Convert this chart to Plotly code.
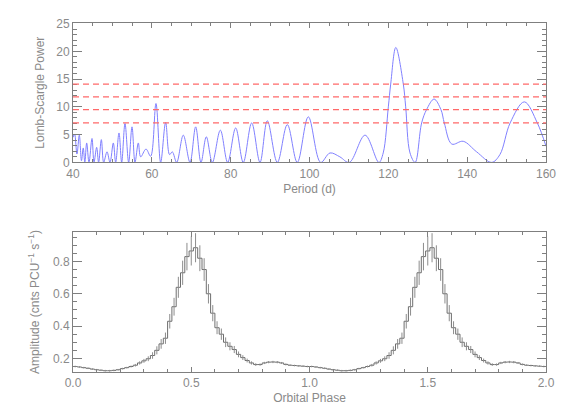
import plotly.graph_objects as go
from plotly.subplots import make_subplots

# ---------------- Data: Lomb-Scargle periodogram ----------------
period = [40.0, 40.4, 41.0, 41.6, 42.15, 42.6, 43.0, 43.47, 44.06, 44.82, 45.33, 46.0, 46.5,
          47.19, 47.78, 48.63, 49.39, 50.23, 50.82, 51.67, 52.35, 53.19, 54.12, 54.97, 55.73,
          56.57, 57.17, 58.52, 59.7, 61.05, 62.24, 63.5, 64.5, 65.2, 66.3, 67.98, 69.68, 71.12,
          72.47, 73.82, 75.35, 77.38, 79.24, 81.27, 83.2, 85.33, 87.44, 89.3, 91.84, 94.37,
          96.9, 99.7, 102.83, 105.2, 107.7, 110.1, 114.1, 117.6, 118.7, 120.0, 120.6, 121.9,
          123.8, 124.4, 125.5, 126.8, 128.45, 129.7, 131.6, 133.35, 134.2, 136.1, 139.0, 142.4,
          146.2, 148.3, 150.9, 154.5, 157.8, 160.0]
power = [4.5, 5.1, 1.5, 4.9, 0.3, 2.6, 0.0, 3.5, 0.0, 4.3, 0.0, 2.7, 0.0,
         4.1, 0.0, 1.9, 0.0, 3.5, 0.0, 5.3, 0.0, 7.0, 0.0, 6.4, 0.0,
         3.5, 1.0, 2.4, 1.1, 10.6, 0.0, 7.2, 1.4, 1.9, 0.0, 4.9, 0.0, 6.4,
         0.0, 4.6, 0.0, 5.8, 0.0, 6.2, 0.0, 7.1, 0.0, 7.5, 0.0, 6.8,
         0.0, 8.2, 0.0, 1.7, 1.0, 0.0, 4.9, 0.0, 1.7, 10.0, 14.1, 20.7,
         14.1, 10.0, 1.7, 0.0, 7.1, 9.5, 11.4, 9.5, 7.1, 3.3, 3.8, 1.9,
         0.0, 1.4, 7.1, 10.9, 7.1, 2.9]

sig_levels = [7.1, 9.5, 11.8, 14.1]
sig_color = "rgb(255,105,105)"

# ---------------- Data: folded light curve (one cycle, repeated) ----------------
n_bins = 55
amplitude = [0.150, 0.147, 0.143, 0.139, 0.134, 0.130, 0.127, 0.124, 0.124, 0.126,
             0.130, 0.137, 0.143, 0.150, 0.158, 0.172, 0.185, 0.198, 0.218, 0.250,
             0.290, 0.325, 0.430, 0.520, 0.640, 0.730, 0.830, 0.865, 0.885, 0.820,
             0.750, 0.600, 0.480, 0.390, 0.350, 0.300, 0.275, 0.255, 0.225, 0.205,
             0.187, 0.172, 0.162, 0.162, 0.172, 0.177, 0.178, 0.177, 0.172, 0.163,
             0.158, 0.156, 0.154, 0.152, 0.150]
amp_err = [0.005, 0.005, 0.005, 0.005, 0.005, 0.005, 0.005, 0.005, 0.005, 0.005,
           0.005, 0.005, 0.005, 0.006, 0.008, 0.010, 0.012, 0.015, 0.020, 0.025,
           0.030, 0.035, 0.045, 0.055, 0.065, 0.075, 0.085, 0.090, 0.090, 0.080,
           0.070, 0.060, 0.050, 0.040, 0.035, 0.030, 0.025, 0.022, 0.018, 0.015,
           0.012, 0.010, 0.008, 0.007, 0.007, 0.007, 0.007, 0.007, 0.006, 0.006,
           0.005, 0.005, 0.005, 0.005, 0.005]
n_cycles = 2

# build folded arrays over two cycles
edges = [k / n_bins for k in range(n_bins * n_cycles + 1)]
amp2 = amplitude * n_cycles
err2 = amp_err * n_cycles
centers = [(k + 0.5) / n_bins for k in range(n_bins * n_cycles)]

AX = "#7f7f7f"
TXT = "#8a8a8a"
FONT = "Liberation Sans"

fig = make_subplots(rows=2, cols=1, vertical_spacing=0.2)

fig.add_trace(go.Scatter(x=period, y=power, mode="lines",
                         line=dict(color="rgb(128,128,255)", width=1, shape="spline", smoothing=1.0),
                         showlegend=False, hoverinfo="skip"), row=1, col=1)
for lv in sig_levels:
    fig.add_shape(type="line", xref="x domain", yref="y", x0=0, x1=1, y0=lv, y1=lv,
                  line=dict(color=sig_color, width=1.2, dash="6px,4px"), layer="above")

fig.add_trace(go.Scatter(x=edges, y=amp2 + [amp2[-1]], mode="lines",
                         line=dict(color="#6e6e6e", width=1, shape="hv"),
                         showlegend=False, hoverinfo="skip"), row=2, col=1)
fig.add_trace(go.Scatter(x=centers, y=amp2, mode="markers",
                         marker=dict(size=0.1, color="rgba(0,0,0,0)"),
                         error_y=dict(type="data", array=err2, visible=True, color="#8c8c8c",
                                      thickness=1, width=0),
                         showlegend=False, hoverinfo="skip"), row=2, col=1)

axis_common = dict(showgrid=False, zeroline=False, showline=True, linecolor=AX, linewidth=1,
                   mirror="allticks", ticks="inside", tickcolor=AX, automargin=False,
                   tickfont=dict(family=FONT, size=12, color=TXT))

fig.update_xaxes(**axis_common, range=[40, 160], dtick=20, tick0=40, ticklen=5,
                 minor=dict(dtick=5, ticklen=3, ticks="inside", tickcolor=AX),
                 title=dict(text="Period (d)", font=dict(family=FONT, size=12, color=TXT), standoff=4),
                 row=1, col=1)
fig.update_yaxes(**axis_common, range=[0, 25.1], dtick=5, tick0=0, ticklen=9,
                 minor=dict(dtick=1, ticklen=4, ticks="inside", tickcolor=AX),
                 title=dict(text="Lomb-Scargle Power", font=dict(family=FONT, size=12, color=TXT), standoff=9),
                 row=1, col=1)
fig.update_xaxes(**axis_common, range=[0, 2], dtick=0.5, tick0=0, ticklen=5, tickformat=".1f",
                 minor=dict(dtick=0.1, ticklen=3, ticks="inside", tickcolor=AX),
                 title=dict(text="Orbital Phase", font=dict(family=FONT, size=12, color=TXT), standoff=4),
                 row=2, col=1)
fig.update_yaxes(**axis_common, range=[0.116, 0.982], dtick=0.2, tick0=0, ticklen=9, tickformat=".1f",
                 minor=dict(dtick=0.05, ticklen=4, ticks="inside", tickcolor=AX),
                 title=dict(text="Amplitude (cnts PCU<sup>\u22121</sup> s<sup>\u22121</sup>)",
                            font=dict(family=FONT, size=12, color=TXT), standoff=10),
                 row=2, col=1)

# the page body adds an 8px margin, so the figure is 8px smaller and offset accordingly
fig.update_layout(
    width=560, height=411,
    margin=dict(l=65, r=22, t=15, b=47, autoexpand=False),
    paper_bgcolor="white", plot_bgcolor="white",
    xaxis=dict(domain=[0, 1]), yaxis=dict(domain=[0.6006, 1.0]),
    xaxis2=dict(domain=[0, 1]), yaxis2=dict(domain=[0.0, 0.401]),
    showlegend=False,
)

fig.write_html("out.html", config={"displayModeBar": False})
